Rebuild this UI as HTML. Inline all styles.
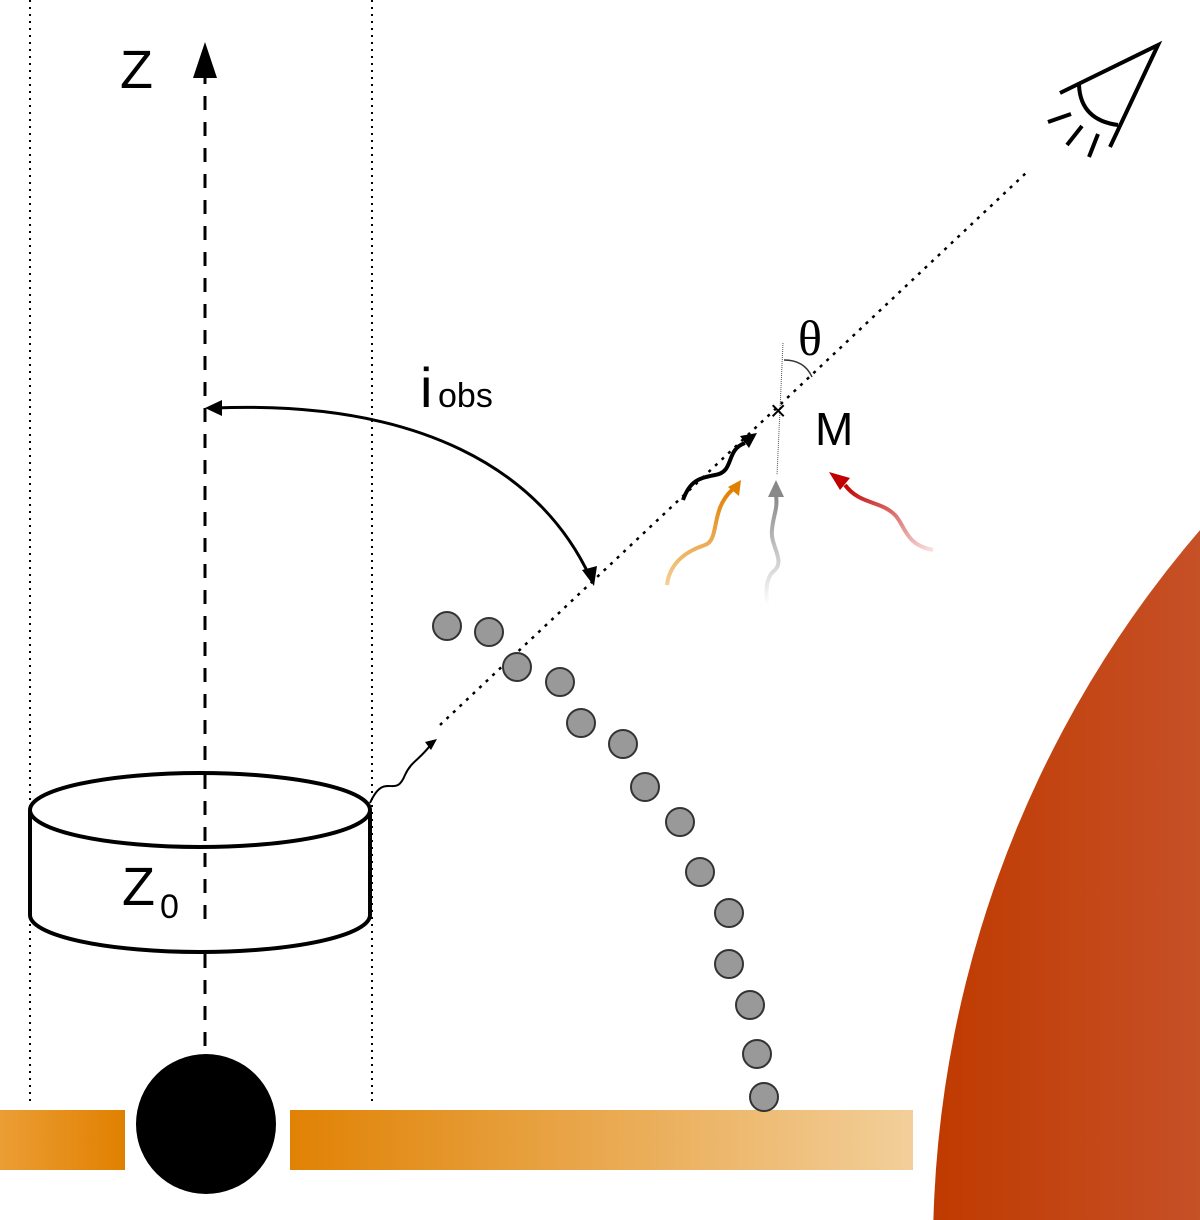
<html><body style="margin:0;background:#fff;overflow:hidden">
<svg width="1200" height="1220" xmlns="http://www.w3.org/2000/svg" style="display:block;font-family:'Liberation Sans','DejaVu Sans',sans-serif">
<defs>
<linearGradient id="bar" x1="0" x2="913" gradientUnits="userSpaceOnUse" y1="0" y2="0"><stop offset="0.3" stop-color="#e08000"/><stop offset="1" stop-color="#f2cf9a"/></linearGradient>
<linearGradient id="bar0" x1="0" x2="125" gradientUnits="userSpaceOnUse"><stop offset="0" stop-color="#eb9e35"/><stop offset="1" stop-color="#e08000"/></linearGradient>
<linearGradient id="star" x1="930" x2="1200" gradientUnits="userSpaceOnUse"><stop offset="0" stop-color="#bf3a00"/><stop offset="1" stop-color="#c65027"/></linearGradient>
<linearGradient id="og" x1="0" y1="1" x2="0" y2="0"><stop offset="0" stop-color="#f5cf95"/><stop offset="1" stop-color="#e08000"/></linearGradient>
<linearGradient id="gg" x1="0" y1="1" x2="0" y2="0"><stop offset="0" stop-color="#fff"/><stop offset="1" stop-color="#888"/></linearGradient>
<linearGradient id="rg" x1="1" y1="1" x2="0" y2="0"><stop offset="0" stop-color="#f8e0e0"/><stop offset="1" stop-color="#c00000"/></linearGradient>
</defs>
<circle cx="2037" cy="1250" r="1104" fill="url(#star)"/>
<rect x="0" y="1110" width="125" height="60" fill="url(#bar0)"/>
<rect x="290" y="1110" width="623" height="60" fill="url(#bar)"/>
<circle cx="206" cy="1124" r="70" fill="#000"/>
<g stroke="#000" stroke-width="2" stroke-dasharray="2,5"><line x1="30" y1="0" x2="30" y2="1105"/><line x1="372" y1="0" x2="372" y2="1105"/></g>
<line x1="205" y1="70" x2="205" y2="1050" stroke="#000" stroke-width="3" stroke-dasharray="14,12"/>
<polygon points="205,42 193,78 217,78" fill="#000"/>
<text x="120" y="88" font-size="54">Z</text>
<path d="M30,810 L30,915 A170,37 0 0 0 370,915 L370,810" fill="#fff" stroke="#000" stroke-width="4"/>
<ellipse cx="200" cy="810" rx="170" ry="37" fill="#fff" stroke="#000" stroke-width="4"/>
<line x1="205" y1="775" x2="205" y2="930" stroke="#000" stroke-width="3" stroke-dasharray="14,12"/>
<text x="122" y="905" font-size="54">Z</text><text x="160" y="918" font-size="34">0</text>
<line x1="440" y1="725" x2="1027" y2="172" stroke="#000" stroke-width="2.5" stroke-dasharray="3,6"/>
<path d="M370,803 C385,770 395,800 405,775 C412,760 420,760 432,743" fill="none" stroke="#000" stroke-width="2"/>
<polygon points="437,739 425,742 431,750" fill="#000"/>
<path d="M215,408 C420,400 540,470 590,577" fill="none" stroke="#000" stroke-width="3"/>
<polygon points="205,408 222,400 222,416" fill="#000"/>
<polygon points="594,586 582,570 597,566" fill="#000"/>
<text x="420" y="407" font-size="56">i</text><text x="438" y="407" font-size="34">obs</text>
<g fill="#999" stroke="#333" stroke-width="2">
<circle cx="447" cy="626" r="14"/><circle cx="489" cy="632" r="14"/><circle cx="517" cy="667" r="14"/><circle cx="560" cy="682" r="14"/><circle cx="581" cy="723" r="14"/><circle cx="623" cy="744" r="14"/><circle cx="645" cy="787" r="14"/><circle cx="680" cy="822" r="14"/><circle cx="700" cy="872" r="14"/><circle cx="729" cy="913" r="14"/><circle cx="729" cy="964" r="14"/><circle cx="750" cy="1005" r="14"/><circle cx="757" cy="1054" r="14"/><circle cx="764" cy="1097" r="14"/></g>
<line x1="783" y1="343" x2="777" y2="475" stroke="#555" stroke-width="1" stroke-dasharray="1,1"/>
<text x="770" y="420" font-size="28">×</text>
<path d="M784,360 C800,360 808,368 812,377" fill="none" stroke="#333" stroke-width="1.5"/>
<text x="798" y="355" font-size="50" font-family="'Liberation Serif',serif">θ</text>
<text x="815" y="445" font-size="46">M</text>
<path d="M683,500 C690,480 700,478 715,475 C735,472 725,450 745,443" fill="none" stroke="#000" stroke-width="4"/>
<polygon points="757,433 740,436 749,448" fill="#000"/>
<path d="M667,585 C670,560 690,550 705,545 C720,540 710,510 732,490" fill="none" stroke="url(#og)" stroke-width="4"/>
<polygon points="741,480 728,487 739,496" fill="#e08000"/>
<path d="M767,605 C765,585 768,575 775,570 C785,560 770,545 772,530 C773,515 778,510 776,495" fill="none" stroke="url(#gg)" stroke-width="4"/>
<polygon points="776,480 768,497 784,497" fill="#888"/>
<path d="M933,550 C905,545 905,525 895,515 C880,500 860,505 845,485" fill="none" stroke="url(#rg)" stroke-width="4"/>
<polygon points="829,472 850,478 840,490" fill="#c00000"/>
<g fill="none" stroke="#000" stroke-width="4"><polyline points="1060,93 1158,45 1110,147"/><path d="M1079,85 C1080,110 1095,122 1118,125"/><line x1="1048" y1="122" x2="1071" y2="114"/><line x1="1067" y1="145" x2="1082" y2="126"/><line x1="1089" y1="157" x2="1098" y2="134"/></g>
</svg></body></html>
